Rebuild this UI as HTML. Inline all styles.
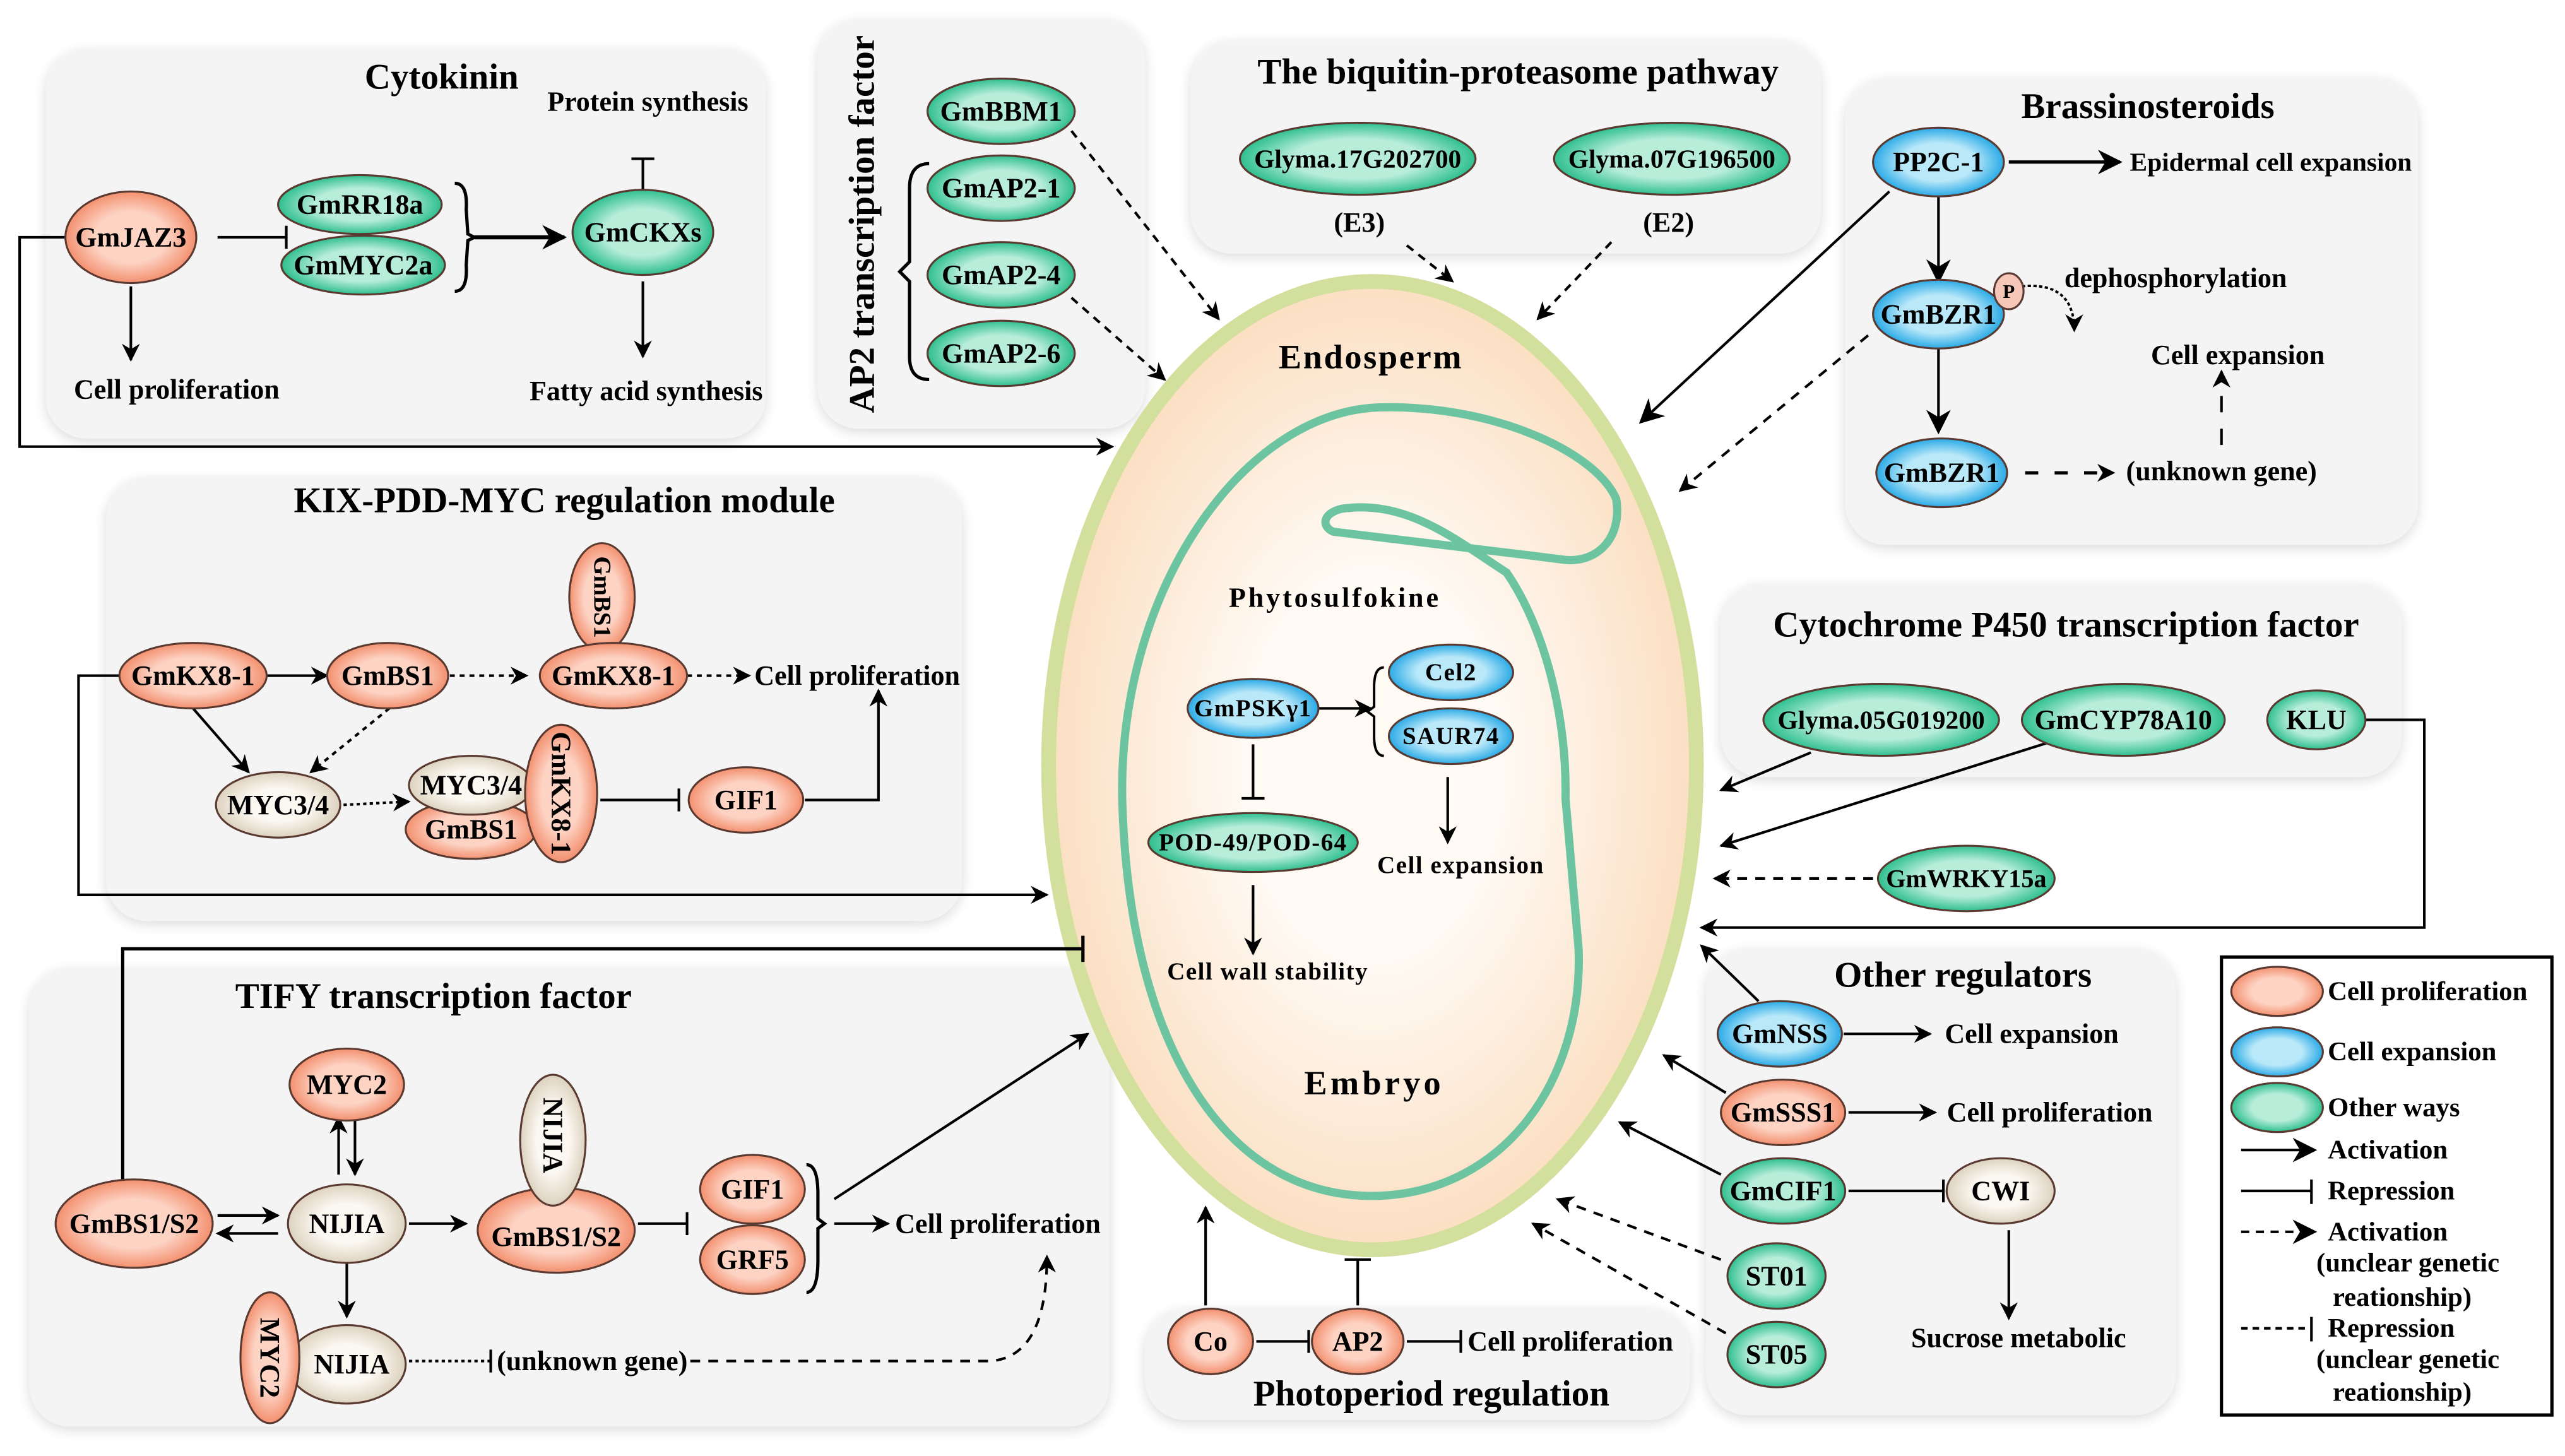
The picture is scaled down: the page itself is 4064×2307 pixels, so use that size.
<!DOCTYPE html>
<html><head><meta charset="utf-8"><style>
html,body{margin:0;padding:0;background:#fff;}
svg{display:block;}
text{font-family:"Liberation Serif",serif;font-weight:bold;fill:#000;}
.l{font-size:17px;}
.t{font-size:22px;}
.n{font-size:15px;letter-spacing:0.6px;}
.lg{font-size:16.5px;}
</style></head><body>
<svg width="4064" height="2307" viewBox="0 0 1568 890" xmlns="http://www.w3.org/2000/svg">
<defs>
<radialGradient id="sal"><stop offset="0.55" stop-color="#fdd3c4"/><stop offset="1" stop-color="#f3906f"/></radialGradient>
<radialGradient id="tea"><stop offset="0.55" stop-color="#b8edda"/><stop offset="1" stop-color="#2fbf8f"/></radialGradient>
<radialGradient id="blu"><stop offset="0.55" stop-color="#b9e8f9"/><stop offset="1" stop-color="#2aaae6"/></radialGradient>
<radialGradient id="bei"><stop offset="0.5" stop-color="#fbf8f2"/><stop offset="1" stop-color="#ddd2bf"/></radialGradient>
<radialGradient id="seed"><stop offset="0.4" stop-color="#fffaf4"/><stop offset="1" stop-color="#fbdfc2"/></radialGradient>
<filter id="sh" x="-10%" y="-10%" width="120%" height="120%"><feGaussianBlur in="SourceAlpha" stdDeviation="4"/><feOffset dx="0" dy="2"/><feComponentTransfer><feFuncA type="linear" slope="0.15"/></feComponentTransfer><feMerge><feMergeNode/><feMergeNode in="SourceGraphic"/></feMerge></filter>
<marker id="a" viewBox="0 0 10 10" refX="9" refY="5" markerWidth="11" markerHeight="11" markerUnits="userSpaceOnUse" orient="auto"><path d="M0,0 L10,5 L0,10 L3,5 Z" fill="#000"/></marker>
<marker id="ab" viewBox="0 0 10 10" refX="9" refY="5" markerWidth="15" markerHeight="15" markerUnits="userSpaceOnUse" orient="auto"><path d="M0,0 L10,5 L0,10 L3,5 Z" fill="#000"/></marker>
</defs>
<g fill="#f4f4f4" filter="url(#sh)">
<rect x="28" y="30" width="440" height="238" rx="25"/>
<rect x="500" y="12" width="200" height="250" rx="25"/>
<rect x="728" y="25" width="385" height="130" rx="25"/>
<rect x="1128" y="48" width="350" height="285" rx="25"/>
<rect x="65" y="292" width="523" height="271" rx="25"/>
<rect x="1052" y="357" width="416" height="118" rx="25"/>
<rect x="1043" y="580" width="287" height="285" rx="25"/>
<rect x="18" y="592" width="660" height="280" rx="25"/>
<rect x="700" y="800" width="333" height="68" rx="25"/>
</g>
<ellipse cx="839" cy="468" rx="198" ry="296" fill="url(#seed)" stroke="#d3df9c" stroke-width="9"/>
<path d="M921,350 C945,385 958,440 957,488 L965,580 C968,660 920,728 843,731 C750,734 690,640 686,488 C684,360 760,252 843,249 C910,247 975,275 988,305 C992,330 975,345 955,342 C900,335 840,328 815,325 C808,322 808,314 820,311 C860,305 890,330 921,350 Z" fill="none" stroke="#6dc4a0" stroke-width="5"/>
<text x="838" y="225" text-anchor="middle" style="font-size:21px;letter-spacing:1px">Endosperm</text>
<text x="816" y="371" text-anchor="middle" style="font-size:17px;letter-spacing:1.5px">Phytosulfokine</text>
<text x="840" y="669" text-anchor="middle" style="font-size:21px;letter-spacing:2px">Embryo</text>
<g stroke="#000" stroke-width="1.6" fill="none">
<path d="M42,145 H12 V273 H680" marker-end="url(#a)"/>
<path d="M133,145 H175 M175,138 V152"/>
<path d="M290,145 H345" stroke-width="2.5" marker-end="url(#ab)"/>
<path d="M393,116 V97 M386,97 H400"/>
<path d="M393,172 V218" marker-end="url(#a)"/>
<path d="M80,175 V220" marker-end="url(#a)"/>
<path d="M278,112 Q286,112 285,128 L286,143 L290,145 L286,147 L285,162 Q286,178 278,178" stroke-width="2"/>
<path d="M568,100 Q556,100 556,115 L556,160 L550,166 L556,172 L556,218 Q556,232 568,232" stroke-width="2"/>
<path d="M655,80 L745,195" stroke-dasharray="5,4" marker-end="url(#a)"/>
<path d="M655,182 L712,232" stroke-dasharray="5,4" marker-end="url(#a)"/>
<path d="M860,150 L888,172" stroke-dasharray="5,4" marker-end="url(#a)"/>
<path d="M985,148 L940,195" stroke-dasharray="5,4" marker-end="url(#a)"/>
<path d="M1228,99 H1296" stroke-width="2" marker-end="url(#ab)"/>
<path d="M1185,118 V172" marker-end="url(#ab)"/>
<path d="M1185,212 V264" marker-end="url(#ab)"/>
<path d="M1238,289 H1292" stroke-width="2" stroke-dasharray="8,10" marker-end="url(#a)"/>
<path d="M1358,272 V227" stroke-dasharray="10,10" marker-end="url(#a)"/>
<path d="M1236,175 Q1268,172 1268,202" stroke-width="1.5" stroke-dasharray="2,1.5" marker-end="url(#a)"/>
<path d="M1155,117 L1003,258" marker-end="url(#ab)"/>
<path d="M1142,205 L1027,300" stroke-dasharray="6,5" marker-end="url(#a)"/>
<path d="M163,413 H200" marker-end="url(#a)"/>
<path d="M275,413 H322" stroke-dasharray="3,3" marker-end="url(#a)"/>
<path d="M420,413 H458" stroke-dasharray="3,3" marker-end="url(#a)"/>
<path d="M118,433 L152,472" marker-end="url(#a)"/>
<path d="M238,433 L190,472" stroke-dasharray="3,3" marker-end="url(#a)"/>
<path d="M210,492 L250,490" stroke-dasharray="2,2" marker-end="url(#a)"/>
<path d="M367,489 H415 M415,482 V496"/>
<path d="M492,489 H537 V422" marker-end="url(#a)"/>
<path d="M73,413 H48 V547 H640" marker-end="url(#a)"/>
<path d="M1107,460 L1052,483" marker-end="url(#a)"/>
<path d="M1255,453 L1052,517" marker-end="url(#a)"/>
<path d="M1145,537 H1048" stroke-dasharray="6,5" marker-end="url(#a)"/>
<path d="M1446,440 H1482 V567 H1040" marker-end="url(#a)"/>
<path d="M1127,632 H1180" marker-end="url(#a)"/>
<path d="M1130,680 H1183" marker-end="url(#a)"/>
<path d="M1130,728 H1188 M1188,721 V735"/>
<path d="M1228,752 V806" marker-end="url(#a)"/>
<path d="M1075,612 L1040,578" marker-end="url(#a)"/>
<path d="M1055,668 L1017,645" marker-end="url(#a)"/>
<path d="M1052,718 L990,686" marker-end="url(#a)"/>
<path d="M1052,770 L952,733" stroke-dasharray="6,5" marker-end="url(#a)"/>
<path d="M1055,815 L937,748" stroke-dasharray="6,5" marker-end="url(#a)"/>
<path d="M75,725 V580 H662 M662,572 V588" stroke-width="2"/>
<path d="M207,718 V683" marker-end="url(#a)"/>
<path d="M217,683 V718" marker-end="url(#a)"/>
<path d="M133,743 H170" marker-end="url(#a)"/>
<path d="M170,754 H133" marker-end="url(#a)"/>
<path d="M250,748 H285" marker-end="url(#a)"/>
<path d="M390,748 H420 M420,741 V755"/>
<path d="M493,712 Q500,712 500,730 L500,745 L504,748 L500,751 L500,770 Q500,790 493,790" stroke-width="2"/>
<path d="M510,748 H543" marker-end="url(#a)"/>
<path d="M510,733 L665,632" marker-end="url(#a)"/>
<path d="M212,768 V805" marker-end="url(#a)"/>
<path d="M250,832 H300" stroke-dasharray="2,2"/>
<path d="M300,825 V839"/>
<path d="M422,832 H605 Q640,830 640,768" stroke-dasharray="6,5" marker-end="url(#a)"/>
<path d="M806,433 H838" marker-end="url(#a)"/>
<path d="M846,408 Q840,408 840,420 L840,432 L836,435 L840,438 L840,450 Q840,462 846,462" stroke-width="1.5"/>
<path d="M885,475 V515" marker-end="url(#a)"/>
<path d="M766,455 V488 M759,488 H773"/>
<path d="M766,541 V583" marker-end="url(#a)"/>
<path d="M768,820 H800 M800,813 V827"/>
<path d="M860,820 H893 M893,813 V827"/>
<path d="M737,798 V738" marker-end="url(#a)"/>
<path d="M830,798 V770 M822,770 H838"/>
</g>
<g stroke="#5a3a30" stroke-width="1.2">
<ellipse cx="80" cy="145" rx="40" ry="28" fill="url(#sal)"/>
<ellipse cx="220" cy="125" rx="50" ry="18" fill="url(#tea)"/>
<ellipse cx="222" cy="162" rx="50" ry="18" fill="url(#tea)"/>
<ellipse cx="393" cy="142" rx="43" ry="26" fill="url(#tea)"/>
<ellipse cx="612" cy="68" rx="45" ry="20" fill="url(#tea)"/>
<ellipse cx="612" cy="115" rx="45" ry="20" fill="url(#tea)"/>
<ellipse cx="612" cy="168" rx="45" ry="20" fill="url(#tea)"/>
<ellipse cx="612" cy="216" rx="45" ry="20" fill="url(#tea)"/>
<ellipse cx="830" cy="97" rx="72" ry="22" fill="url(#tea)"/>
<ellipse cx="1022" cy="97" rx="72" ry="22" fill="url(#tea)"/>
<ellipse cx="1185" cy="99" rx="40" ry="21" fill="url(#blu)"/>
<ellipse cx="1185" cy="192" rx="40" ry="21" fill="url(#blu)"/>
<ellipse cx="1228" cy="178" rx="9" ry="11" fill="#f6c6b8"/>
<ellipse cx="1187" cy="289" rx="40" ry="21" fill="url(#blu)"/>
<ellipse cx="118" cy="413" rx="45" ry="20" fill="url(#sal)"/>
<ellipse cx="237" cy="413" rx="37" ry="20" fill="url(#sal)"/>
<ellipse cx="368" cy="365" rx="20" ry="33" fill="url(#sal)"/>
<ellipse cx="375" cy="413" rx="45" ry="20" fill="url(#sal)"/>
<ellipse cx="170" cy="492" rx="38" ry="20" fill="url(#bei)"/>
<ellipse cx="288" cy="507" rx="40" ry="18" fill="url(#sal)"/>
<ellipse cx="288" cy="480" rx="38" ry="18" fill="url(#bei)"/>
<ellipse cx="343" cy="485" rx="22" ry="42" fill="url(#sal)"/>
<ellipse cx="456" cy="489" rx="35" ry="20" fill="url(#sal)"/>
<ellipse cx="1150" cy="440" rx="72" ry="22" fill="url(#tea)"/>
<ellipse cx="1298" cy="440" rx="62" ry="22" fill="url(#tea)"/>
<ellipse cx="1416" cy="440" rx="30" ry="18" fill="url(#tea)"/>
<ellipse cx="1202" cy="537" rx="54" ry="20" fill="url(#tea)"/>
<ellipse cx="1088" cy="632" rx="38" ry="20" fill="url(#blu)"/>
<ellipse cx="1090" cy="680" rx="38" ry="20" fill="url(#sal)"/>
<ellipse cx="1090" cy="728" rx="38" ry="20" fill="url(#tea)"/>
<ellipse cx="1223" cy="728" rx="33" ry="20" fill="url(#bei)"/>
<ellipse cx="1086" cy="780" rx="30" ry="20" fill="url(#tea)"/>
<ellipse cx="1086" cy="828" rx="30" ry="20" fill="url(#tea)"/>
<ellipse cx="212" cy="663" rx="35" ry="22" fill="url(#sal)"/>
<ellipse cx="82" cy="748" rx="48" ry="27" fill="url(#sal)"/>
<ellipse cx="212" cy="748" rx="36" ry="24" fill="url(#bei)"/>
<ellipse cx="340" cy="752" rx="48" ry="26" fill="url(#sal)"/>
<ellipse cx="338" cy="697" rx="20" ry="40" fill="url(#bei)"/>
<ellipse cx="460" cy="727" rx="32" ry="21" fill="url(#sal)"/>
<ellipse cx="460" cy="770" rx="32" ry="21" fill="url(#sal)"/>
<ellipse cx="212" cy="834" rx="36" ry="24" fill="url(#bei)"/>
<ellipse cx="165" cy="830" rx="18" ry="40" fill="url(#sal)"/>
<ellipse cx="766" cy="433" rx="40" ry="18" fill="url(#blu)"/>
<ellipse cx="887" cy="411" rx="38" ry="17" fill="url(#blu)"/>
<ellipse cx="887" cy="450" rx="38" ry="17" fill="url(#blu)"/>
<ellipse cx="766" cy="515" rx="64" ry="18" fill="url(#tea)"/>
<ellipse cx="740" cy="820" rx="26" ry="20" fill="url(#sal)"/>
<ellipse cx="830" cy="820" rx="28" ry="20" fill="url(#sal)"/>
</g>
<g class="l" text-anchor="middle" dominant-baseline="central">
<text class="t" x="270" y="47">Cytokinin</text>
<text x="396" y="62">Protein synthesis</text>
<text x="80" y="145">GmJAZ3</text>
<text x="220" y="125">GmRR18a</text>
<text x="222" y="162">GmMYC2a</text>
<text x="393" y="142">GmCKXs</text>
<text x="108" y="238">Cell proliferation</text>
<text x="395" y="239">Fatty acid synthesis</text>
<text class="t" transform="translate(527,137) rotate(-90)">AP2 transcription factor</text>
<text x="612" y="68">GmBBM1</text>
<text x="612" y="115">GmAP2-1</text>
<text x="612" y="168">GmAP2-4</text>
<text x="612" y="216">GmAP2-6</text>
<text class="t" x="928" y="44">The biquitin-proteasome pathway</text>
<text x="830" y="97" style="font-size:16px">Glyma.17G202700</text>
<text x="1022" y="97" style="font-size:16px">Glyma.07G196500</text>
<text x="831" y="136">(E3)</text>
<text x="1020" y="136">(E2)</text>
<text class="t" x="1313" y="65">Brassinosteroids</text>
<text x="1185" y="99">PP2C-1</text>
<text x="1302" y="99" text-anchor="start" style="font-size:16px">Epidermal cell expansion</text>
<text x="1185" y="192">GmBZR1</text>
<text x="1228" y="178" style="font-size:12px">P</text>
<text x="1330" y="170">dephosphorylation</text>
<text x="1368" y="217">Cell expansion</text>
<text x="1187" y="289">GmBZR1</text>
<text x="1358" y="288">(unknown gene)</text>
<text class="t" x="345" y="306">KIX-PDD-MYC regulation module</text>
<text x="118" y="413">GmKX8-1</text>
<text x="237" y="413">GmBS1</text>
<text transform="translate(368,365) rotate(90)" style="font-size:15px">GmBS1</text>
<text x="375" y="413">GmKX8-1</text>
<text x="524" y="413">Cell proliferation</text>
<text x="170" y="492">MYC3/4</text>
<text x="288" y="480">MYC3/4</text>
<text x="288" y="507">GmBS1</text>
<text transform="translate(343,485) rotate(90)">GmKX8-1</text>
<text x="456" y="489">GIF1</text>
<text class="t" x="1263" y="382">Cytochrome P450 transcription factor</text>
<text x="1150" y="440" style="font-size:16px">Glyma.05G019200</text>
<text x="1298" y="440">GmCYP78A10</text>
<text x="1416" y="440">KLU</text>
<text x="1202" y="537" style="font-size:15.5px">GmWRKY15a</text>
<text class="t" x="1200" y="596">Other regulators</text>
<text x="1088" y="632">GmNSS</text>
<text x="1242" y="632">Cell expansion</text>
<text x="1090" y="680">GmSSS1</text>
<text x="1253" y="680">Cell proliferation</text>
<text x="1090" y="728">GmCIF1</text>
<text x="1223" y="728">CWI</text>
<text x="1234" y="818">Sucrose metabolic</text>
<text x="1086" y="780">ST01</text>
<text x="1086" y="828">ST05</text>
<text class="t" x="265" y="609">TIFY  transcription factor</text>
<text x="212" y="663">MYC2</text>
<text x="82" y="748">GmBS1/S2</text>
<text x="212" y="748">NIJIA</text>
<text x="340" y="756">GmBS1/S2</text>
<text transform="translate(338,694) rotate(90)">NIJIA</text>
<text x="460" y="727">GIF1</text>
<text x="460" y="770">GRF5</text>
<text x="610" y="748">Cell proliferation</text>
<text x="215" y="834">NIJIA</text>
<text transform="translate(165,830) rotate(90)">MYC2</text>
<text x="362" y="832">(unknown gene)</text>
<text x="766" y="433" class="n">GmPSKγ1</text>
<text x="887" y="411" class="n">Cel2</text>
<text x="887" y="450" class="n">SAUR74</text>
<text x="893" y="529" class="n">Cell expansion</text>
<text x="766" y="515" class="n">POD-49/POD-64</text>
<text x="775" y="594" class="n">Cell wall stability</text>
<text x="740" y="820">Co</text>
<text x="830" y="820">AP2</text>
<text x="960" y="820">Cell proliferation</text>
<text class="t" x="875" y="852">Photoperiod regulation</text>
</g>
<rect x="1358" y="585" width="202" height="280" fill="#fff" stroke="#000" stroke-width="2"/>
<g stroke="#5a3a30" stroke-width="1.2">
<ellipse cx="1392" cy="606" rx="28" ry="15" fill="url(#sal)"/>
<ellipse cx="1392" cy="643" rx="28" ry="15" fill="url(#blu)"/>
<ellipse cx="1392" cy="677" rx="28" ry="15" fill="url(#tea)"/>
</g>
<g stroke="#000" stroke-width="1.6" fill="none">
<path d="M1370,703 H1415" marker-end="url(#ab)"/>
<path d="M1370,728 H1413 M1413,721 V736"/>
<path d="M1370,753 H1415" stroke-dasharray="5,4" marker-end="url(#ab)"/>
<path d="M1370,812 H1412" stroke-dasharray="4,3"/>
<path d="M1413,805 V820"/>
</g>
<g class="lg" dominant-baseline="central">
<text x="1423" y="606">Cell proliferation</text>
<text x="1423" y="643">Cell expansion</text>
<text x="1423" y="677">Other ways</text>
<text x="1423" y="703">Activation</text>
<text x="1423" y="728">Repression</text>
<text x="1423" y="753">Activation</text>
<text x="1416" y="772">(unclear genetic</text>
<text x="1426" y="793">reationship)</text>
<text x="1423" y="812">Repression</text>
<text x="1416" y="831">(unclear genetic</text>
<text x="1426" y="851">reationship)</text>
</g>
</svg>
</body></html>
